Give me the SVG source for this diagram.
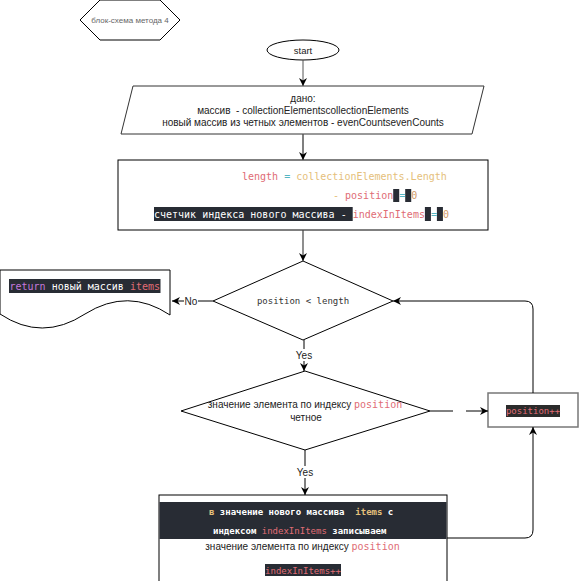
<svg xmlns="http://www.w3.org/2000/svg" width="579" height="581" viewBox="0 0 579 581">
<style>
.shape{fill:#fff;stroke:#000;stroke-width:1}
.sans{font-family:"Liberation Sans",Arial,sans-serif;fill:#222}
.mono{font-family:"DejaVu Sans Mono","Liberation Mono",monospace}
.conn{fill:none;stroke:#000;stroke-width:1}
.dark{fill:#282c34}
.red{fill:#e06c75}
.yel{fill:#e5c07b}
.cy{fill:#56b6c2}
.org{fill:#d19a66}
.pur{fill:#c678dd}
.wht{fill:#ffffff}
.lbl{font-family:"Liberation Sans",Arial,sans-serif;font-size:10px;fill:#222;text-anchor:middle}
</style>
<defs>
<marker id="arr" viewBox="0 0 10 10" refX="10" refY="5" markerWidth="8" markerHeight="8" markerUnits="userSpaceOnUse" orient="auto">
<path d="M0,0 L10,5 L0,10 L3,5 Z" fill="#000"/>
</marker>
</defs>

<g id="title">
<polygon class="shape" points="80,20 100,0 160,0 180,20 160,40 100,40"/>
<text class="sans" x="130" y="23" font-size="8" text-anchor="middle" style="fill:#666">блок-схема метода 4</text>
</g>

<g id="start">
<ellipse class="shape" cx="303" cy="50" rx="36" ry="10"/>
<text class="sans" x="303" y="53.5" font-size="9.5" text-anchor="middle">start</text>
</g>

<g id="input">
<polygon class="shape" points="133,86 484,86 472,134 121,134" style="stroke:#333"/>
<text class="sans" font-size="10" text-anchor="middle" xml:space="preserve"><tspan x="303" y="102">дано:</tspan><tspan x="303" y="114">массив  - collectionElementscollectionElements</tspan><tspan x="303" y="126">новый массив из четных элементов - evenCountsevenCounts</tspan></text>
</g>

<g id="init">
<rect class="shape" x="118" y="160" width="370" height="70"/>
<rect class="dark" x="393.2" y="189" width="6.02" height="13"/>
<rect class="dark" x="405.2" y="189" width="6.02" height="13"/>
<rect class="dark" x="154" y="207" width="198.7" height="14"/>
<rect class="dark" x="424.9" y="207" width="6.02" height="14"/>
<rect class="dark" x="436.9" y="207" width="6.02" height="14"/>
<text class="mono" font-size="10" xml:space="preserve" x="242" y="179.5"><tspan class="red">length</tspan> <tspan class="cy">=</tspan> <tspan class="yel">collectionElements.Length</tspan></text>
<text class="mono" font-size="10" xml:space="preserve" x="333" y="198.5"><tspan class="yel">- </tspan><tspan class="red">position</tspan> <tspan class="cy">=</tspan> <tspan class="org">0</tspan></text>
<text class="mono" font-size="10" xml:space="preserve" x="154" y="217.5"><tspan class="wht">счетчик индекса нового массива - </tspan><tspan class="red">indexInItems</tspan> <tspan class="cy">=</tspan> <tspan class="org">0</tspan></text>
</g>

<g id="cond1">
<polygon class="shape" points="303,261 393,301 303,340 213,301"/>
<text class="mono" font-size="9" x="303" y="304" text-anchor="middle" style="fill:#333">position &lt; length</text>
</g>

<g id="result">
<path class="shape" d="M0,270 H170 V315 Q128,287 85,314 Q42,342 0,314 Z"/>
<rect class="dark" x="9" y="279" width="151.5" height="14"/>
<text class="mono" font-size="10" xml:space="preserve" x="9.5" y="289.5"><tspan class="pur">return</tspan><tspan class="wht"> новый массив </tspan><tspan class="red">items</tspan></text>
</g>

<g id="cond2">
<polygon class="shape" points="305,371 430,411 305,450 181,411"/>
<text font-size="10" x="305" y="407.5" text-anchor="middle" xml:space="preserve"><tspan class="sans">значение элемента по индексу </tspan><tspan class="mono red">position</tspan></text>
<text class="sans" font-size="10" x="306" y="420.5" text-anchor="middle">четное</text>
</g>

<g id="inc">
<rect class="shape" x="488" y="393" width="90" height="34" style="stroke:#777;stroke-width:1.5"/>
<rect x="506" y="405" width="54" height="12" fill="#2b2b2b"/>
<text class="mono red" font-size="9" x="533" y="414" text-anchor="middle">position++</text>
</g>

<g id="assign">
<rect class="shape" x="159" y="495" width="288" height="92"/>
<rect class="dark" x="159.5" y="502" width="287" height="37"/>
<text class="mono" font-size="9" font-weight="bold" xml:space="preserve" x="209" y="514.5"><tspan class="yel">в</tspan><tspan class="wht"> значение нового массива  </tspan><tspan class="yel">items</tspan><tspan class="wht"> с</tspan></text>
<text class="mono" font-size="9" font-weight="bold" xml:space="preserve" x="213" y="533.5"><tspan class="wht">индексом </tspan><tspan class="red" font-weight="normal">indexInItems</tspan><tspan class="wht"> записываем</tspan></text>
<text font-size="10" x="302.5" y="549.5" text-anchor="middle" xml:space="preserve"><tspan class="sans">значение элемента по индексу </tspan><tspan class="mono red">position</tspan></text>
<rect class="dark" x="265" y="564" width="76" height="12"/>
<text class="mono red" font-size="9" x="303" y="573.5" text-anchor="middle">indexInItems++</text>
</g>

<g id="connectors">
<line class="conn" x1="303" y1="60" x2="303" y2="86" marker-end="url(#arr)" style="stroke:#555"/>
<line class="conn" x1="303" y1="134" x2="303" y2="160" marker-end="url(#arr)" style="stroke:#555;stroke-width:1.5"/>
<line class="conn" x1="303" y1="230" x2="303" y2="261" marker-end="url(#arr)" style="stroke:#444;stroke-width:1.2"/>
<line class="conn" x1="213" y1="301" x2="172" y2="301" marker-end="url(#arr)"/>
<rect x="184" y="295" width="14" height="12" fill="#fff"/>
<text class="lbl" x="191" y="304.5">No</text>
<line class="conn" x1="304" y1="340" x2="304" y2="371" marker-end="url(#arr)"/>
<rect x="295" y="349" width="19" height="12" fill="#fff"/>
<text class="lbl" x="304" y="358.5">Yes</text>
<line class="conn" x1="305" y1="450" x2="305" y2="495" marker-end="url(#arr)"/>
<rect x="296" y="466" width="19" height="12" fill="#fff"/>
<text class="lbl" x="305" y="475.5">Yes</text>
<line class="conn" x1="430" y1="411" x2="453" y2="411"/>
<line class="conn" x1="466" y1="411" x2="488" y2="411" marker-end="url(#arr)"/>
<path class="conn" d="M533,393 V309 Q533,301 525,301 H393" marker-end="url(#arr)"/>
<path class="conn" d="M447,538 H525 Q533,538 533,530 V427" marker-end="url(#arr)"/>
</g>
</svg>
